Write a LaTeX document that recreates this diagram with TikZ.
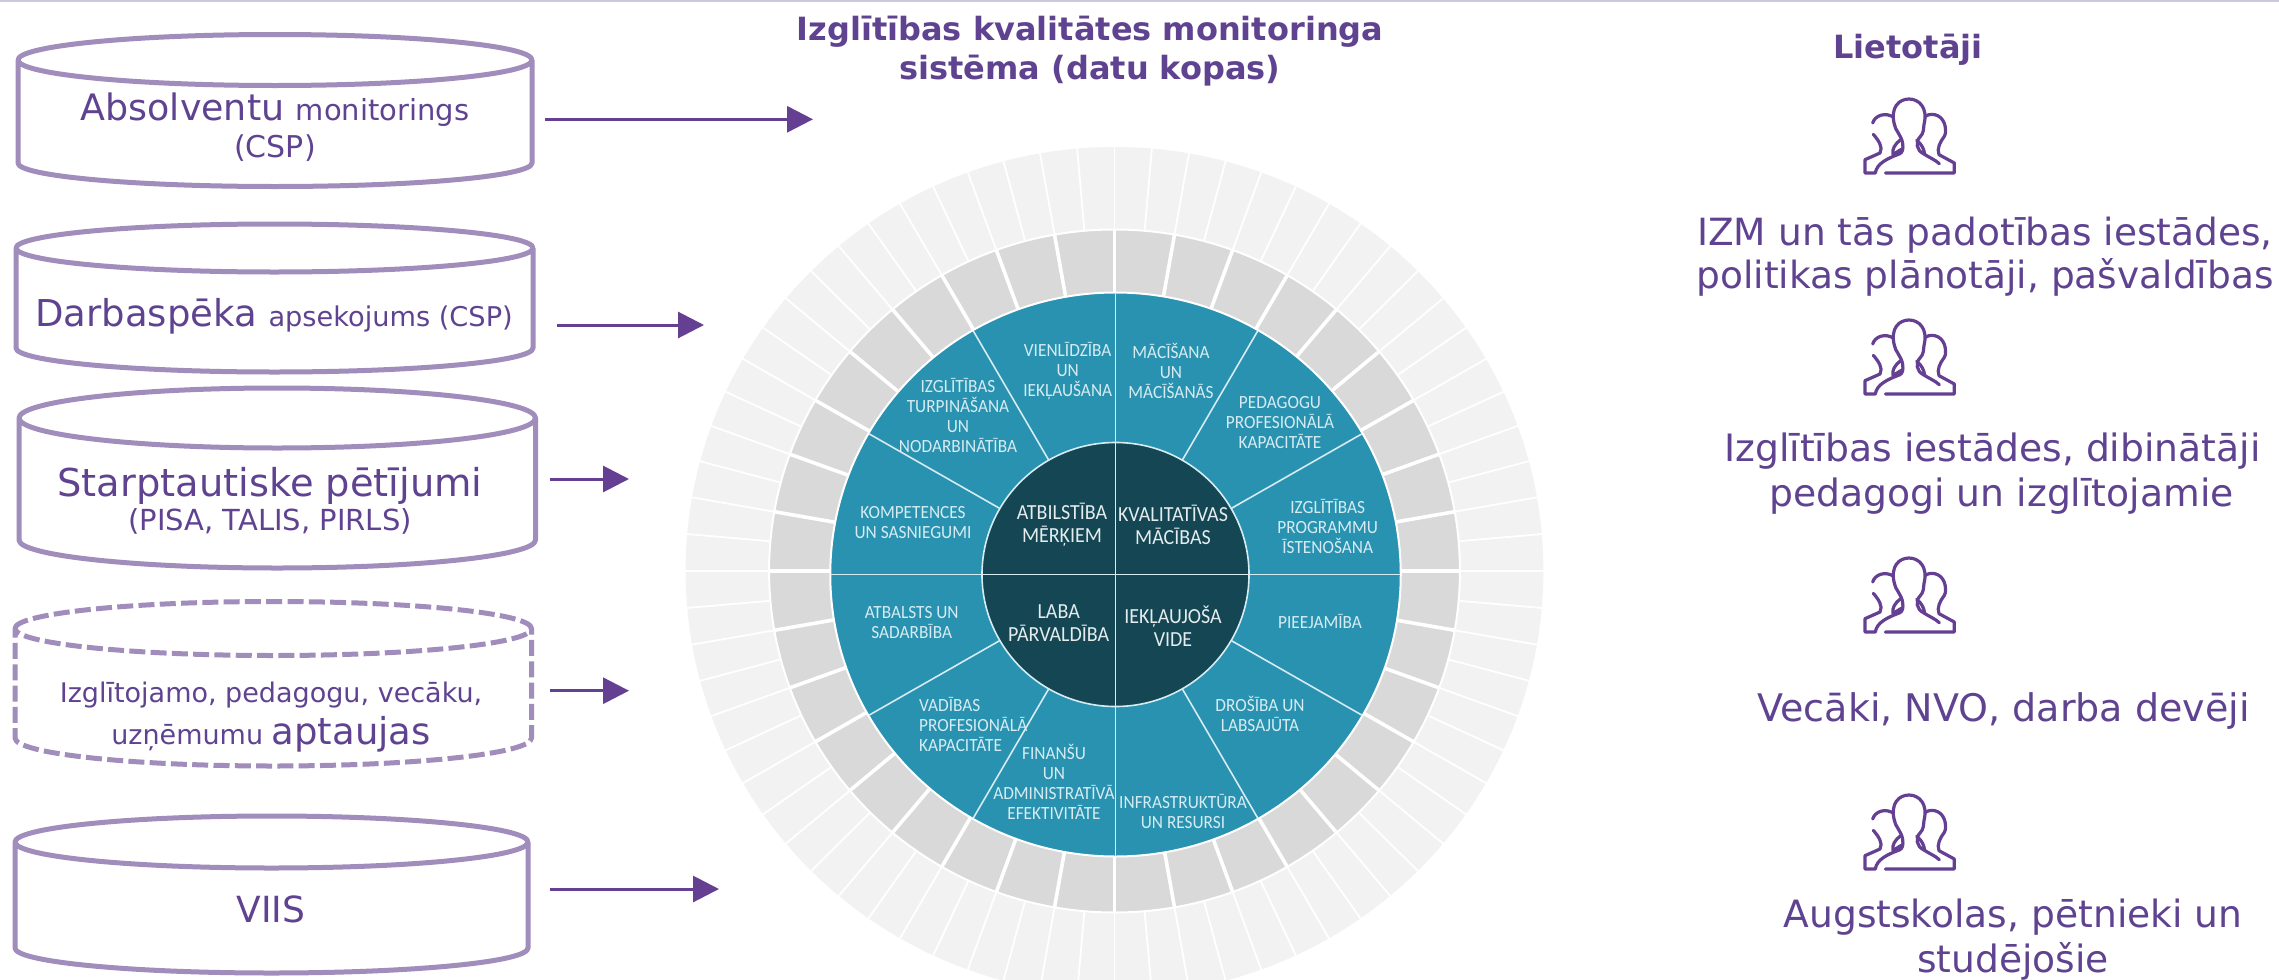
\documentclass[tikz,border=0pt]{standalone}
\usepackage{fontspec}
\setmainfont{DejaVu Sans}
\newfontfamily\carlito[FakeStretch=0.93]{Carlito}
\usetikzlibrary{arrows.meta}
\definecolor{purpletxt}{HTML}{5F4391}
\definecolor{purplearr}{HTML}{643F92}
\definecolor{cylline}{HTML}{A18DBB}
\definecolor{tealseg}{HTML}{2892B0}
\definecolor{tealdark}{HTML}{144753}
\definecolor{ringgray}{HTML}{D9D9D9}
\definecolor{ringlight}{HTML}{F2F2F2}
\definecolor{topband}{HTML}{C9C9DD}
\definecolor{tealtxt}{HTML}{D6ECF2}
\definecolor{darktxt}{HTML}{E4ECEE}
\newcommand{\fs}[2]{\fontsize{#1}{#2}\selectfont}
% x1 x2 ytop ycorner ybotcorner ybot
\newcommand{\cylshape}[7][]{%
  \pgfmathsetmacro{\xc}{(#2+#3)/2}%
  \pgfmathsetmacro{\kx}{0.5523*(#3-#2)/2}%
  \pgfmathsetmacro{\kyt}{0.5523*(#5-#4)}%
  \pgfmathsetmacro{\kyb}{0.5523*(#7-#6)}%
  \draw[cylstroke,#1] (#2,#5)
    .. controls (#2,#5-\kyt) and (\xc-\kx,#4) .. (\xc,#4)
    .. controls (\xc+\kx,#4) and (#3,#5-\kyt) .. (#3,#5)
    .. controls (#3,#5+\kyt) and (\xc+\kx,2*#5-#4) .. (\xc,2*#5-#4)
    .. controls (\xc-\kx,2*#5-#4) and (#2,#5+\kyt) .. (#2,#5)
    -- (#2,#6)
    .. controls (#2,#6+\kyb) and (\xc-\kx,#7) .. (\xc,#7)
    .. controls (\xc+\kx,#7) and (#3,#6+\kyb) .. (#3,#6)
    -- (#3,#5);%
}
\tikzset{
  cylstroke/.style={draw=cylline,line width=5pt,line join=round},
  dashcyl/.style={dash pattern=on 16pt off 5.3pt},
  flowarrow/.style={draw=purplearr,fill=purplearr,line width=3pt,-{Triangle[length=26pt,width=26pt]}},
  sidetxt/.style={text=purpletxt,inner sep=0pt,anchor=base,align=center},
  segtxt/.style={text=tealtxt,inner sep=0pt,align=center,font=\carlito\fs{18.6}{20}},
  hubtxt/.style={text=darktxt,inner sep=0pt,align=center,font=\carlito\fs{21.5}{23}},
  people/.pic={
    \begin{scope}[scale=0.3333,shift={(-327,-518)},draw=purplearr,line width=3.2pt,line cap=round,line join=round]
      \draw (256,518)--(463,518)--(463,488)--(417,463) .. controls (410,445) and (420,425) .. (433,408)
        -- (436,400) .. controls (440,370) and (425,342) .. (395,342) .. controls (388,342) and (382,344) .. (376,348);
      \draw (418,490) .. controls (405,478) and (385,470) .. (370,460) .. controls (350,450) and (345,425) .. (360,410)
        .. controls (372,398) and (370,385) .. (372,372) .. controls (385,320) and (355,296) .. (327,296)
        .. controls (298,296) and (270,320) .. (283,372) .. controls (285,390) and (305,405) .. (308,430)
        .. controls (310,445) and (308,455) .. (300,460) .. controls (260,475) and (230,490) .. (226,518)
        -- (195,518) -- (195,478) -- (240,458) .. controls (250,440) and (235,420) .. (220,402);
      \draw (218,368) .. controls (225,345) and (255,335) .. (280,350);
      \draw (302,418) .. controls (285,430) and (275,448) .. (279,462) -- (306,446);
      \draw (350,420) .. controls (365,432) and (372,445) .. (374,462);
    \end{scope}
  }
}
\begin{document}
\begin{tikzpicture}[x=1pt,y=-1pt]
\useasboundingbox (0,0) rectangle (2279,980);
\fill[white] (0,0) rectangle (2279,980);
\begin{scope}
\clip (0,0) rectangle (2279,980);
\fill[topband] (0,0) rectangle (2279,2);

% outer rings
\begin{scope}[shift={(1114.5,571)},xscale=1.0115]
  \fill[ringlight] (0,0) circle [radius=424];
  \foreach \a in {0,5,...,355} \draw[white,line width=1.8pt] (\a:341) -- (\a:426);
  \filldraw[fill=ringgray,draw=white,line width=2pt] (0,0) circle [radius=341.5];
  \foreach \a in {0,10,...,350} \draw[white,line width=3.6pt] (\a:270) -- (\a:342);
\end{scope}

% teal ring and hub
\begin{scope}[shift={(1115.5,574.5)},xscale=1.0115]
  \filldraw[fill=tealseg,draw=white,line width=2pt] (0,0) circle [radius=282];
  \foreach \a in {30,60,120,150,210,240,300,330} \draw[tealtxt,line width=1.6pt] (\a:132) -- (\a:281);
  \filldraw[fill=tealdark,draw=tealtxt,line width=1.6pt] (0,0) circle [radius=132];
  \draw[tealtxt,line width=1.6pt] (-281,0) -- (281,0);
  \draw[tealtxt,line width=1.6pt] (0,-281) -- (0,281);
\end{scope}
\end{scope}

% segment labels
\node[segtxt] (s1) at (1067.7,371) {VIENLĪDZĪBA\\UN\\IEKĻAUŠANA};
\node[segtxt] (s2) at (958,415) {IZGLĪTĪBAS\\TURPINĀŠANA\\UN\\NODARBINĀTĪBA};
\node[segtxt] (s3) at (913,523) {KOMPETENCES\\UN SASNIEGUMI};
\node[segtxt] (s4) at (1171,371) {MĀCĪŠANA\\UN\\MĀCĪŠANĀS};
\node[segtxt] (s5) at (1280,423) {PEDAGOGU\\PROFESIONĀLĀ\\KAPACITĀTE};
\node[segtxt] (s6) at (1327.7,526.7) {IZGLĪTĪBAS\\PROGRAMMU\\ĪSTENOŠANA};
\node[segtxt] (s7) at (911.7,623) {ATBALSTS UN\\SADARBĪBA};
\node[segtxt,align=left,anchor=west] (s8) at (919,724) {VADĪBAS\\PROFESIONĀLĀ\\KAPACITĀTE};
\node[segtxt] (s9) at (1054,782) {FINANŠU\\UN\\ADMINISTRATĪVĀ\\EFEKTIVITĀTE};
\node[segtxt] (s10) at (1320,621.7) {PIEEJAMĪBA};
\node[segtxt] (s11) at (1260,714) {DROŠĪBA UN\\LABSAJŪTA};
\node[segtxt] (s12) at (1183,811.7) {INFRASTRUKTŪRA\\UN RESURSI};
% hub labels
\node[hubtxt] (h1) at (1062,525) {ATBILSTĪBA\\MĒRĶIEM};
\node[hubtxt] (h2) at (1173,525) {KVALITATĪVAS\\MĀCĪBAS};
\node[hubtxt] (h3) at (1058.7,623) {LABA\\PĀRVALDĪBA};
\node[hubtxt] (h4) at (1173,626) {IEKĻAUJOŠA\\VIDE};

% cylinders
\cylshape{18}{532}{34.5}{60}{163}{186.5}
\cylshape{16}{533}{224}{248}{348}{372}
\cylshape{19}{535.5}{388}{418}{540}{568}
\cylshape[dashcyl]{15}{531.5}{601.5}{628.5}{738}{766}
\cylshape{15}{528}{816}{842}{948}{973}

% cylinder labels
\node[sidetxt,font=\fs{36.4}{37}] (c1) at (275,157) {Absolventu {\fs{29}{37}monitorings}\\{\fs{30}{37}(CSP)}};
\node[sidetxt,font=\fs{37}{37}] (c2) at (274,326) {Darbaspēka {\fs{27.2}{37}apsekojums (CSP)}};
\node[sidetxt,font=\fs{38.4}{34}] (c3) at (270,530) {Starptautiske pētījumi\\{\fs{29}{34}(PISA, TALIS, PIRLS)}};
\node[sidetxt,font=\fs{27}{42}] (c4) at (271,744) {Izglītojamo, pedagogu, vecāku,\\uzņēmumu {\fs{37}{42}aptaujas}};
\node[sidetxt,font=\fs{36}{37}] (c5) at (271,922) {VIIS};

% arrows
\coordinate (a1s) at (545,119.3); \coordinate (a1e) at (813,119.3);
\coordinate (a2s) at (557,325);   \coordinate (a2e) at (704,325);
\coordinate (a3s) at (550,479);   \coordinate (a3e) at (629,479);
\coordinate (a4s) at (550,690.7); \coordinate (a4e) at (629,690.7);
\coordinate (a5s) at (550,889);   \coordinate (a5e) at (719,889);
\draw[flowarrow] (a1s) -- (a1e);
\draw[flowarrow] (a2s) -- (a2e);
\draw[flowarrow] (a3s) -- (a3e);
\draw[flowarrow] (a4s) -- (a4e);
\draw[flowarrow] (a5s) -- (a5e);

% titles
\node[sidetxt,font=\bfseries\fs{32}{39}] (title) at (1090,79) {Izglītības kvalitātes monitoringa\\sistēma (datu kopas)};
\node[sidetxt,font=\bfseries\fs{32}{40}] (users) at (1908,58) {Lietotāji};

% icons
\pic at (1909,173) {people};
\pic at (1909,394) {people};
\pic at (1909,632) {people};
\pic at (1909,869) {people};

% user labels
\node[sidetxt,font=\fs{37.5}{43}] (u1) at (1985,288) {IZM un tās padotības iestādes,\\politikas plānotāji, pašvaldības};
\node[sidetxt,font=\fs{37.7}{45}] (u2) at (1992.5,506.7) {Izglītības iestādes, dibinātāji\\\hspace*{18pt}pedagogi un izglītojamie};
\node[sidetxt,font=\fs{38}{45}] (u3) at (2003.5,721.7) {Vecāki, NVO, darba devēji};
\node[sidetxt,font=\fs{37.6}{45}] (u4) at (2013,972) {Augstskolas, pētnieki un\\studējošie};
\end{tikzpicture}
\end{document}
